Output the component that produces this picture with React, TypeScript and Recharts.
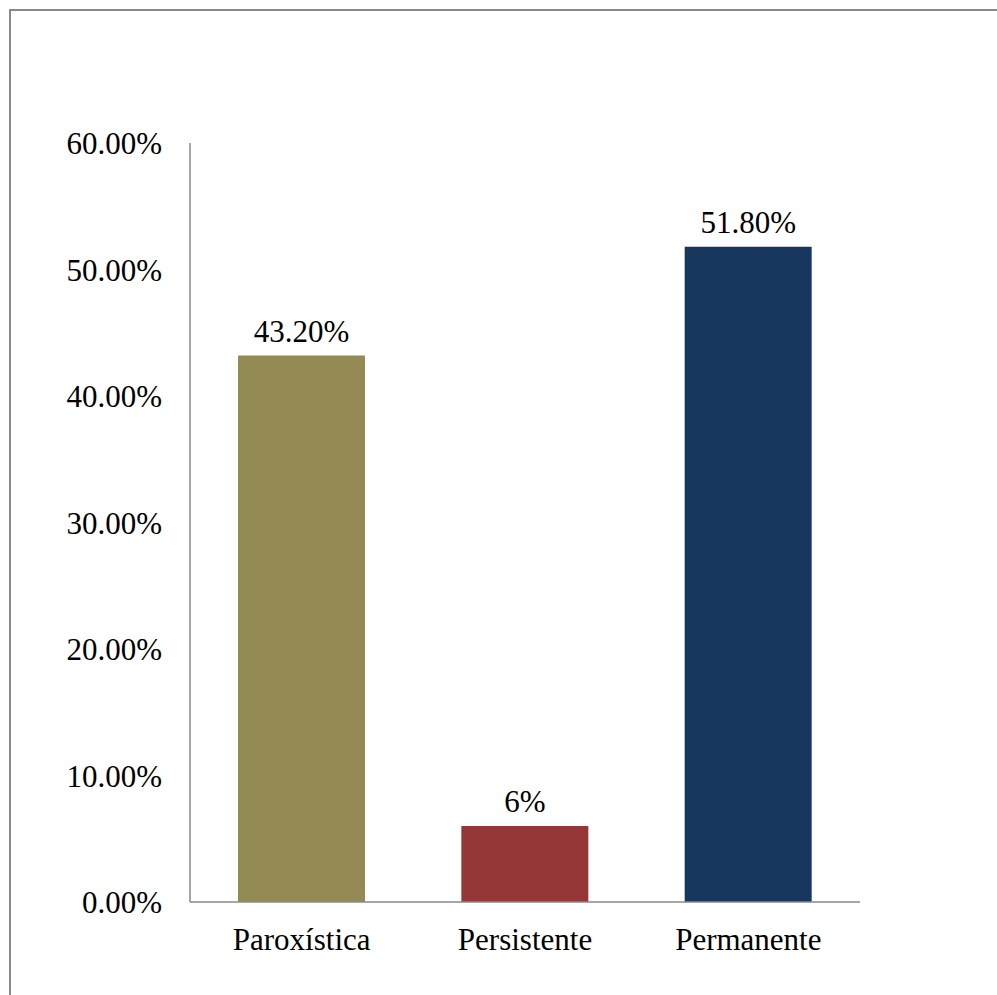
import React from "react";
import { BarChart, Bar, XAxis, YAxis, Cell, LabelList } from "recharts";

const categories = ["Paroxística", "Persistente", "Permanente"];
const percentages = [43.2, 6, 51.8];
const valueLabels = ["43.20%", "6%", "51.80%"];
const yTicks = [0, 10, 20, 30, 40, 50, 60];

const COLORS = ["#948A54", "#953735", "#17375E"];
const FONT = "'Liberation Serif', 'Times New Roman', serif";

const data = categories.map((name, i) => ({
  name,
  value: percentages[i],
  label: valueLabels[i],
}));

export default function App() {
  return (
    <div
      style={{
        position: "absolute",
        left: 0,
        top: 0,
        width: 997,
        height: 995,
        overflow: "hidden",
        background: "#fff",
      }}
    >
      <div
        style={{
          position: "absolute",
          left: 9,
          top: 9,
          width: 1020,
          height: 1020,
          border: "2px solid #8a8a8a",
        }}
      />
      <div style={{ position: "absolute", left: 0, top: 0 }}>
        <BarChart
          width={997}
          height={995}
          data={data}
          margin={{ top: 143, right: 137, bottom: 33, left: 0 }}
          barCategoryGap="21.5%"
        >
          <YAxis
            width={190}
            domain={[0, 60]}
            ticks={yTicks}
            tickFormatter={(v: number) => `${v.toFixed(2)}%`}
            axisLine={{ stroke: "#8a8a8a", strokeWidth: 1.5 }}
            tickLine={false}
            tickSize={0}
            tickMargin={28}
            tick={{ fill: "#000", fontSize: 31, fontFamily: FONT }}
          />
          <XAxis
            dataKey="name"
            height={60}
            axisLine={{ stroke: "#8a8a8a", strokeWidth: 1.5 }}
            tickLine={false}
            tickSize={0}
            tickMargin={26}
            tick={{ fill: "#000", fontSize: 31, fontFamily: FONT }}
          />
          <Bar dataKey="value" isAnimationActive={false}>
            {data.map((_, index) => (
              <Cell key={`cell-${index}`} fill={COLORS[index]} />
            ))}
            <LabelList
              dataKey="label"
              position="top"
              offset={14}
              style={{ fill: "#000", fontSize: 31, fontFamily: FONT }}
            />
          </Bar>
        </BarChart>
      </div>
    </div>
  );
}
